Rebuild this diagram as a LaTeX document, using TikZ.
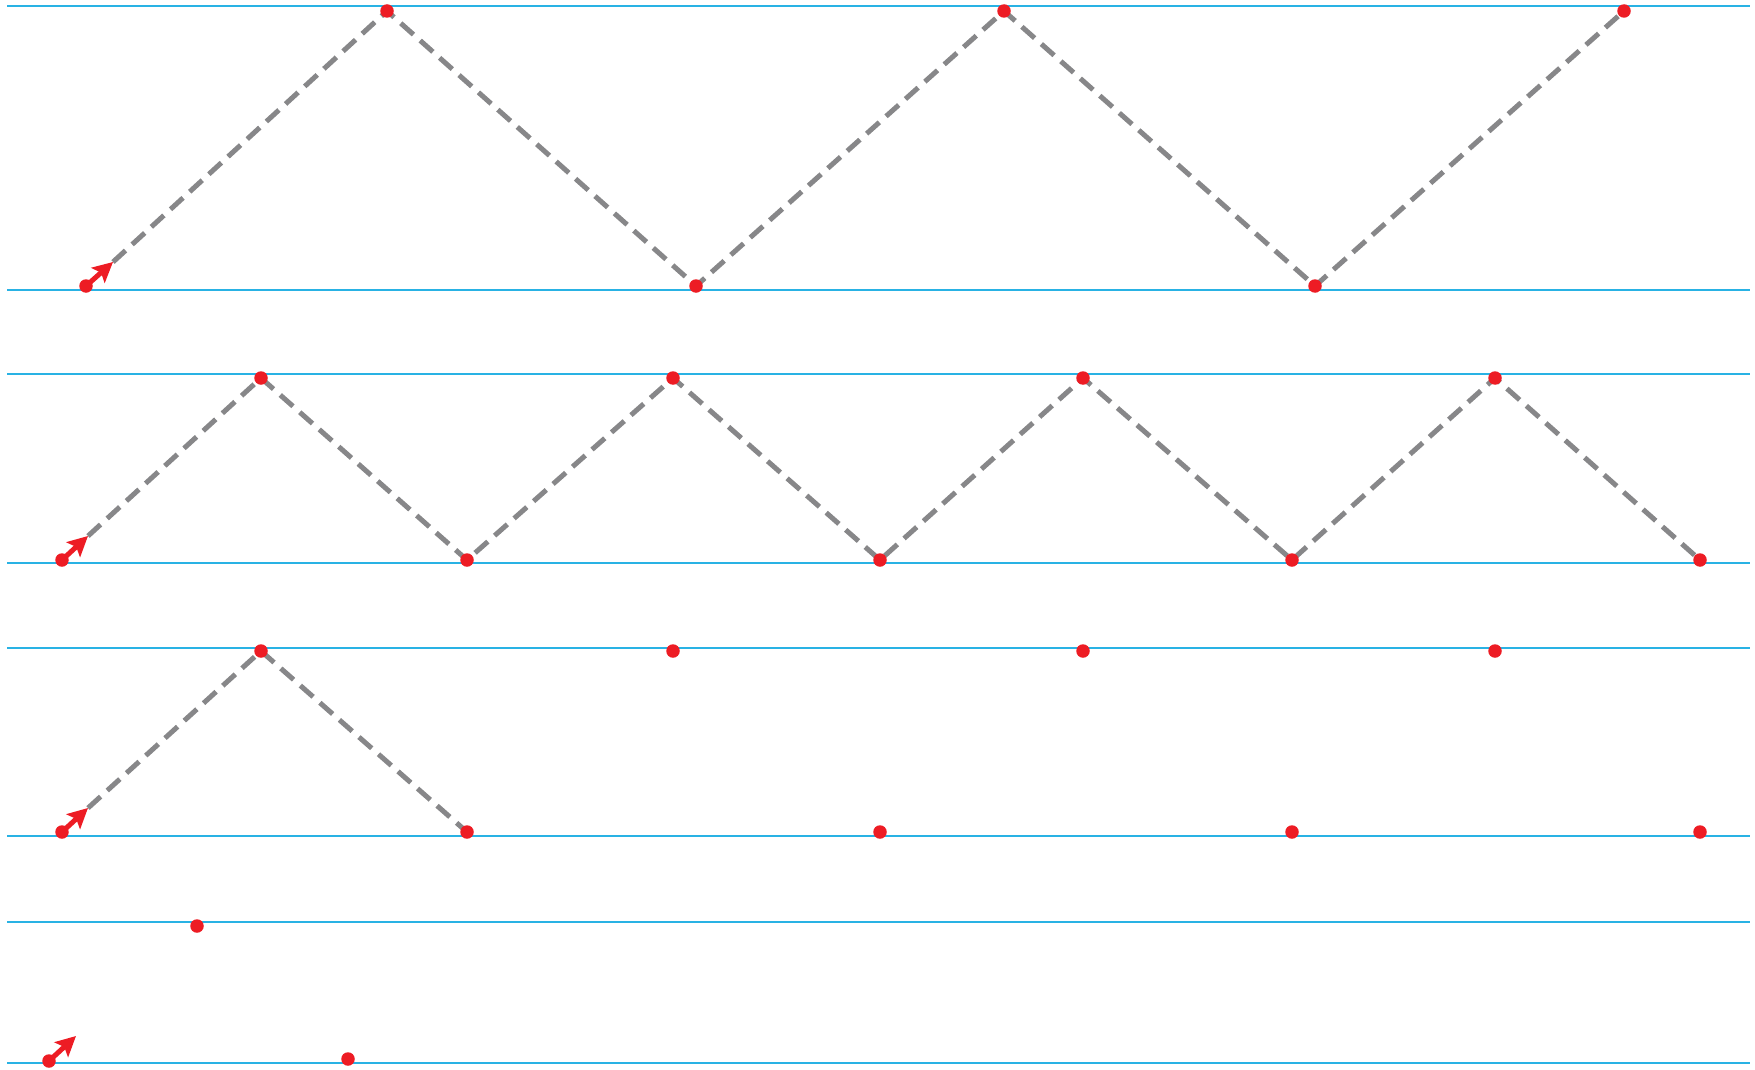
\documentclass[tikz,border=0pt]{standalone}
\usetikzlibrary{arrows.meta}
\definecolor{guide}{RGB}{41,178,228}
\definecolor{dotred}{RGB}{237,28,36}
\definecolor{zig}{RGB}{135,135,137}
\tikzset{
  guideline/.style={draw=guide,line width=2pt},
  zigzag/.style={draw=zig,line width=5pt,dash pattern=on 17pt off 9pt},
  startarrow/.style={draw=dotred,line width=5pt,-{Stealth[length=20pt,width=20pt,inset=4pt]}},
  reddot/.style={circle,fill=dotred,inner sep=0pt,minimum size=13.5pt}
}
\begin{document}
\begin{tikzpicture}[x=1pt,y=-1pt]
\useasboundingbox (0,0) rectangle (1755,1070);
% guide lines
\foreach \yy [count=\i] in {6,290,374,563,648,836,922,1063}
  \coordinate (gl\i) at (7,\yy);
\foreach \yy [count=\i] in {6,290,374,563,648,836,922,1063}
  \coordinate (gr\i) at (1750,\yy);
\foreach \i in {1,...,8}
  \draw[guideline] (gl\i) -- (gr\i);
\draw[guideline,line width=2.6pt] (gl1) -- (gr1);
\draw[guideline,line width=2.6pt] (gl2) -- (gr2);
% row 1
\coordinate (a0) at (86,286);
\coordinate (a1) at (387,11);
\coordinate (a2) at (696,286);
\coordinate (a3) at (1004,11);
\coordinate (a4) at (1315,286);
\coordinate (a5) at (1624,11);
\coordinate (at) at (113,262);
% row 2
\coordinate (b0) at (62,560);
\coordinate (b1) at (261,378);
\coordinate (b2) at (467,560);
\coordinate (b3) at (673,378);
\coordinate (b4) at (880,560);
\coordinate (b5) at (1083,378);
\coordinate (b6) at (1292,560);
\coordinate (b7) at (1495,378);
\coordinate (b8) at (1700,560);
\coordinate (bt) at (88,536);
% row 3
\coordinate (c0) at (62,832);
\coordinate (c1) at (261,651);
\coordinate (c2) at (467,832);
\coordinate (c3) at (673,651);
\coordinate (c4) at (880,832);
\coordinate (c5) at (1083,651);
\coordinate (c6) at (1292,832);
\coordinate (c7) at (1495,651);
\coordinate (c8) at (1700,832);
\coordinate (ct) at (88,808);
% row 4
\coordinate (d0) at (49,1061);
\coordinate (d1) at (197,926);
\coordinate (d2) at (348,1059);
\coordinate (dt) at (76,1036);
% zigzags
\draw[zigzag] (at) -- (a1) -- (a2) -- (a3) -- (a4) -- (a5);
\draw[zigzag] (bt) -- (b1) -- (b2) -- (b3) -- (b4) -- (b5) -- (b6) -- (b7) -- (b8);
\draw[zigzag] (ct) -- (c1) -- (c2);
% start arrows
\draw[startarrow] (a0) -- (at);
\draw[startarrow] (b0) -- (bt);
\draw[startarrow] (c0) -- (ct);
\draw[startarrow] (d0) -- (dt);
% dots
\foreach \p in {a0,a1,a2,a3,a4,a5,b0,b1,b2,b3,b4,b5,b6,b7,b8,c0,c1,c2,c3,c4,c5,c6,c7,c8,d0,d1,d2}
  \node[reddot] (n\p) at (\p) {};
\end{tikzpicture}
\end{document}
